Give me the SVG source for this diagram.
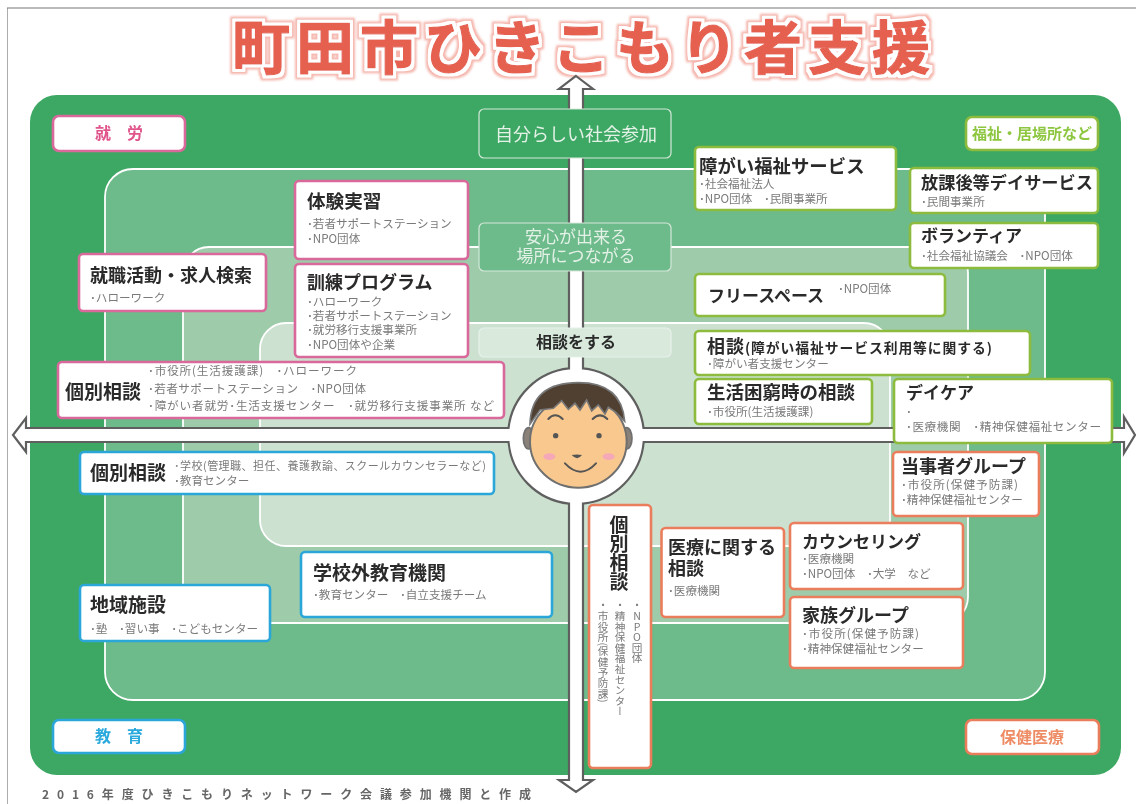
<svg xmlns="http://www.w3.org/2000/svg" width="1136" height="804" viewBox="0 0 1136 804">
<style>
text{font-family:"Noto Sans CJK JP","Liberation Sans",sans-serif}
.b{fill:#fff;stroke-width:2.6}
.pk{stroke:#D9689B}.bl{stroke:#2BA6D8}.gr{stroke:#8CBB3C}.or{stroke:#EA7E5C}
.h{font-size:18px;font-weight:700;fill:#2b2b2b}
.s{font-size:11.6px;fill:#7a7a7a}
.lab{font-size:16px;font-weight:700;text-anchor:middle}
.layer{stroke:#fff;stroke-width:1.8}
.step{stroke:#d5e8da;stroke-width:1.2}
.c{text-anchor:middle}
.v{writing-mode:vertical-rl;text-orientation:mixed}
.vs{font-size:10.6px}
</style>
<defs>
<filter id="soft" x="0" y="0" width="100%" height="100%"><feGaussianBlur stdDeviation="0.5"/></filter>
<filter id="halo" x="-5%" y="-30%" width="110%" height="160%">
<feMorphology in="SourceAlpha" operator="dilate" radius="5" result="o"/>
<feGaussianBlur in="o" stdDeviation="1" result="ob"/>
<feFlood flood-color="#F5B5AC"/><feComposite in2="ob" operator="in" result="oc"/>
<feMorphology in="SourceAlpha" operator="dilate" radius="3" result="m"/>
<feGaussianBlur in="m" stdDeviation=".6" result="mb"/>
<feFlood flood-color="#fff"/><feComposite in2="mb" operator="in" result="mc"/>
<feMerge><feMergeNode in="oc"/><feMergeNode in="mc"/><feMergeNode in="SourceGraphic"/></feMerge>
</filter>
</defs>
<rect width="1136" height="804" fill="#fff"/>
<g filter="url(#soft)">
<path d="M7 804V8H1136" fill="none" stroke="#777" stroke-width="1.2"/>
<text id="title" x="232" y="69" font-size="58" font-weight="700" letter-spacing="6" fill="#E6604F" stroke="#E6604F" stroke-width="1.2" stroke-linejoin="round" filter="url(#halo)">町田市ひきこもり者支援</text>
<g id="background">
<rect x="30" y="95" width="1091" height="680" rx="27" fill="#3DA863"/>
<rect class="layer" x="105" y="169" width="940" height="531" rx="28" fill="#6DBA8B"/>
<rect class="layer" x="183" y="247" width="785" height="376" rx="26" fill="#9ECBA9"/>
<rect class="layer" x="260" y="323" width="630" height="223" rx="26" fill="#CCE1D0"/>
</g>
<g id="connectors">
<path d="M576 76L593 89H583V368.4A68 68 0 0 1 643.5 428H1124V417L1135 435L1124 453V442H643.7A68 68 0 0 1 583 503.6V780H593L576 792L559 780H569V503.6A68 68 0 0 1 508.5 442H26V452L13 435L26 418V428H508.5A68 68 0 0 1 569 368.4V89H559Z" fill="#fff" stroke="#5f5f5f" stroke-width="2.2"/>
</g>
<g id="face" transform="translate(490 350) scale(.3333)">
<ellipse cx="116" cy="265" rx="16" ry="32" fill="#8a8178" stroke="#6f6f6f" stroke-width="5"/>
<ellipse cx="410" cy="265" rx="16" ry="32" fill="#8a8178" stroke="#6f6f6f" stroke-width="5"/>
<ellipse cx="265" cy="275" rx="145" ry="138" fill="#F8C88E" stroke="#6f6f6f" stroke-width="6"/>
<path d="M120 222C122 150 160 98 265 98C355 98 398 140 404 214L375 185L355 172L345 192L325 165L305 183L290 150L270 180L255 160L235 178L215 152L190 175L150 180Z" fill="#4F3F31" stroke="#777" stroke-width="5"/>
<path d="M175 207Q195 185 218 207M308 207Q330 185 352 207M225 340Q272 390 318 340" fill="none" stroke="#555" stroke-width="6" stroke-linecap="round"/>
<circle cx="197" cy="257" r="8" fill="#555"/><circle cx="327" cy="257" r="8" fill="#555"/>
<ellipse cx="178" cy="320" rx="18" ry="10" fill="#F5A9B8"/><ellipse cx="356" cy="320" rx="18" ry="10" fill="#F5A9B8"/>
<path d="M245 315Q260 312 276 315Q262 334 245 315Z" fill="#555"/>
</g>
<g id="goal1"><rect x="479" y="109" width="192" height="49" rx="5" fill="#3DA863" class="step"/><text class="c" x="576" y="141" font-size="18" fill="#e3f1e7">自分らしい社会参加</text></g>
<g id="goal2"><rect x="479" y="223" width="192" height="48" rx="5" fill="#6DBA8B" class="step"/><text class="c" x="576" y="243" font-size="17" fill="#e3f1e7">安心が出来る</text><text class="c" x="576" y="262" font-size="17" fill="#e3f1e7">場所につながる</text></g>
<g id="goal3"><rect x="479" y="328" width="192" height="29" rx="5" fill="#D9EADD" stroke="#e6f1e9" stroke-width="1.2"/><text class="c" x="576" y="348" font-size="16" font-weight="700" fill="#2b2b2b">相談をする</text></g>

<g id="label-work"><rect class="b pk" x="53" y="116" width="132" height="35" rx="6"/><text class="lab" x="119" y="139" fill="#E0558C">就　労</text></g>
<g id="label-edu"><rect class="b bl" x="53" y="720" width="132" height="33" rx="6"/><text class="lab" x="119" y="742" fill="#29A9DC">教　育</text></g>
<g id="label-welfare"><rect class="b gr" x="966" y="117" width="132" height="33" rx="6"/><text class="lab" x="1032" y="139" fill="#8DC63F" style="font-size:15px">福祉・居場所など</text></g>
<g id="label-health"><rect class="b or" x="966" y="720" width="133" height="34" rx="6"/><text class="lab" x="1032" y="743" fill="#EE8C65">保健医療</text></g>

<g id="n-taiken"><rect class="b pk" x="295" y="181" width="173" height="78" rx="4"/><text class="h" x="307" y="208" style="font-size:18.6px">体験実習</text><text class="s" x="307" y="228">･若者サポートステーション</text><text class="s" x="307" y="243">･NPO団体</text></g>
<g id="n-shushoku"><rect class="b pk" x="79" y="254" width="187" height="57" rx="4"/><text class="h" x="90" y="282">就職活動・求人検索</text><text class="s" x="90" y="302">･ハローワーク</text></g>
<g id="n-kunren"><rect class="b pk" x="295" y="264" width="173" height="93" rx="4"/><text class="h" x="307" y="289">訓練プログラム</text><text class="s" x="307" y="306">･ハローワーク</text><text class="s" x="307" y="320">･若者サポートステーション</text><text class="s" x="307" y="334">･就労移行支援事業所</text><text class="s" x="307" y="349">･NPO団体や企業</text></g>
<g id="n-kobetsu-work"><rect class="b pk" x="58" y="362" width="446" height="56" rx="4"/><text class="h" x="65" y="399" style="font-size:19px">個別相談</text><text class="s" x="148" y="375" textLength="209">･市役所(生活援護課)　･ハローワーク</text><text class="s" x="148" y="393" textLength="218">･若者サポートステーション　･NPO団体</text><text class="s" x="148" y="410" textLength="346">･障がい者就労･生活支援センター　･就労移行支援事業所 など</text></g>
<g id="n-kobetsu-edu"><rect class="b bl" x="80" y="452" width="414" height="42" rx="4"/><text class="h" x="90" y="480" style="font-size:19px">個別相談</text><text class="s" x="174" y="470" style="font-size:11px" textLength="312">･学校(管理職、担任、養護教諭、スクールカウンセラーなど)</text><text class="s" x="174" y="485">･教育センター</text></g>
<g id="n-gakkogai"><rect class="b bl" x="301" y="552" width="251" height="65" rx="4"/><text class="h" x="313" y="580" style="font-size:19px">学校外教育機関</text><text class="s" x="313" y="599">･教育センター　･自立支援チーム</text></g>
<g id="n-chiiki"><rect class="b bl" x="80" y="585" width="190" height="56" rx="4"/><text class="h" x="90" y="612" style="font-size:19px">地域施設</text><text class="s" x="90" y="633">･塾　･習い事　･こどもセンター</text></g>

<g id="n-shogai"><rect class="b gr" x="695" y="147" width="201" height="63" rx="4"/><text class="h" x="699" y="173" style="font-size:18.4px">障がい福祉サービス</text><text class="s" x="699" y="188">･社会福祉法人</text><text class="s" x="699" y="203">･NPO団体　･民間事業所</text></g>
<g id="n-hokago"><rect class="b gr" x="910" y="168" width="188" height="45" rx="4"/><text class="h" x="921" y="189" style="font-size:17.2px">放課後等デイサービス</text><text class="s" x="921" y="206">･民間事業所</text></g>
<g id="n-volunteer"><rect class="b gr" x="910" y="223" width="188" height="45" rx="4"/><text class="h" x="921" y="242" style="font-size:17px">ボランティア</text><text class="s" x="921" y="260">･社会福祉協議会　･NPO団体</text></g>
<g id="n-free"><rect class="b gr" x="695" y="274" width="250" height="42" rx="4"/><text class="h" x="708" y="302" style="font-size:17px">フリースペース</text><text class="s" x="838" y="293">･NPO団体</text></g>
<g id="n-sodan"><rect class="b gr" x="695" y="331" width="335" height="44" rx="4"/><text class="h" x="707" y="353" textLength="285">相談<tspan font-size="13.8">(障がい福祉サービス利用等に関する)</tspan></text><text class="s" x="707" y="368">･障がい者支援センター</text></g>
<g id="n-konkyu"><rect class="b gr" x="695" y="379" width="177" height="45" rx="4"/><text class="h" x="707" y="399" style="font-size:18.5px">生活困窮時の相談</text><text class="s" x="707" y="416">･市役所(生活援護課)</text></g>
<g id="n-daycare"><rect class="b gr" x="894" y="379" width="218" height="64" rx="4"/><text class="h" x="906" y="399" style="font-size:17px">デイケア</text><text class="s" x="906" y="416">･</text><text class="s" x="906" y="431" textLength="195">･医療機関　･精神保健福祉センター</text></g>

<g id="n-tojisha"><rect class="b or" x="893" y="452" width="146" height="64" rx="4"/><text class="h" x="901" y="473">当事者グループ</text><text class="s" x="901" y="489" textLength="117">･市役所(保健予防課)</text><text class="s" x="901" y="504">･精神保健福祉センター</text></g>
<g id="n-counseling"><rect class="b or" x="790" y="523" width="173" height="66" rx="4"/><text class="h" x="802" y="548" style="font-size:17px">カウンセリング</text><text class="s" x="802" y="563">･医療機関</text><text class="s" x="802" y="578">･NPO団体　･大学　など</text></g>
<g id="n-kazoku"><rect class="b or" x="790" y="597" width="173" height="71" rx="4"/><text class="h" x="802" y="622">家族グループ</text><text class="s" x="802" y="638" textLength="117">･市役所(保健予防課)</text><text class="s" x="802" y="653">･精神保健福祉センター</text></g>
<g id="n-iryo"><rect class="b or" x="661.500" y="528" width="122.500" height="89" rx="4"/><text class="h" x="668" y="554">医療に関する</text><text class="h" x="668" y="575">相談</text><text class="s" x="668" y="595">･医療機関</text></g>
<g id="n-kobetsu-health"><rect class="b or" x="589" y="505" width="62" height="263" rx="4"/><text class="h v" x="619" y="515" style="font-size:19px">個別相談</text><text class="s v vs" x="637" y="600" style="text-orientation:upright" >・NPO団体</text><text class="s v vs" x="620" y="600">・精神保健福祉センター</text><text class="s v vs" x="603" y="600">・市役所(保健予防課)</text></g>
<text id="credit" x="42" y="799" font-size="12" font-weight="700" fill="#666" textLength="489" lengthAdjust="spacing">2016年度ひきこもりネットワーク会議参加機関と作成</text>
</g>
</svg>
